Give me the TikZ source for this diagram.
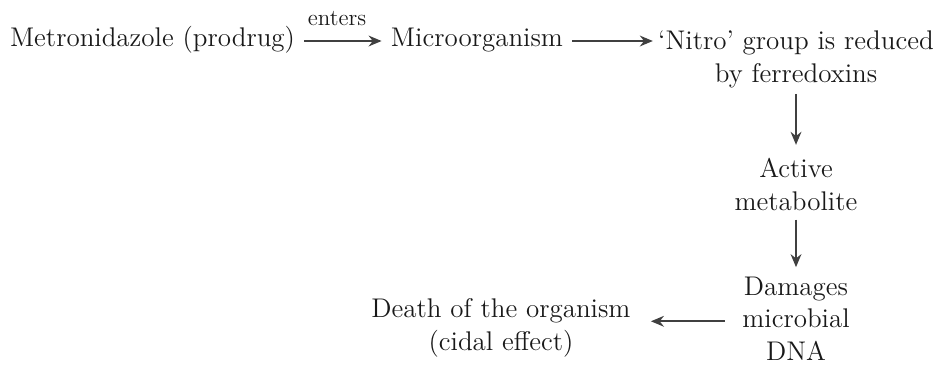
\documentclass[tikz,border=0pt]{standalone}
\usetikzlibrary{arrows.meta}

\tikzset{
  stage/.style={font=\fontsize{13.5}{16.25}\selectfont, align=center, inner sep=0pt,
    text=black!90, anchor=base},
  flow/.style={-{Stealth[length=6.5pt,width=5.4pt]}, line width=0.85pt, draw=black!75,
    shorten <=4.5pt, shorten >=4.5pt},
}

\begin{document}
\begin{tikzpicture}[x=0.5pt,y=-0.5pt]
\useasboundingbox (0,0) rectangle (935,365);

% the chain of events (multi-line nodes sit on their last line)
\node[stage] (drug)   at (152.5,46) {Metronidazole (prodrug)};
\node[stage] (micro)  at (477,46)   {Microorganism};
\node[stage] (nitro)  at (796,82)   {`Nitro' group is reduced\\by ferredoxins};
\node[stage] (active) at (796,210)  {Active\\metabolite};
\node[stage] (damage) at (796,360)  {Damages\\microbial\\DNA};
\node[stage] (death)  at (501,350)  {Death of the organism\\(cidal effect)};

\draw[flow] ([yshift=2.5pt]drug.base east) -- ([yshift=2.5pt]micro.base west)
  node[midway, above=7pt, xshift=-3pt, font=\fontsize{11.5}{13}\selectfont, text=black!90, inner sep=0pt] (enters) {enters};
\draw[flow, shorten >=2.5pt] ([yshift=2.5pt]micro.base east) -- ([yshift=2.5pt]micro.base east -| nitro.west);
\draw[flow, shorten <=3pt, shorten >=6.5pt] (nitro.south) -- (nitro.south |- active.north);
\draw[flow] (active.south) -- (active.south |- damage.north);
\draw[flow, shorten <=8.5pt, shorten >=10pt] ([yshift=-1.5pt]damage.west) -- ([yshift=-1.5pt]damage.west -| death.east);
\end{tikzpicture}
\end{document}
